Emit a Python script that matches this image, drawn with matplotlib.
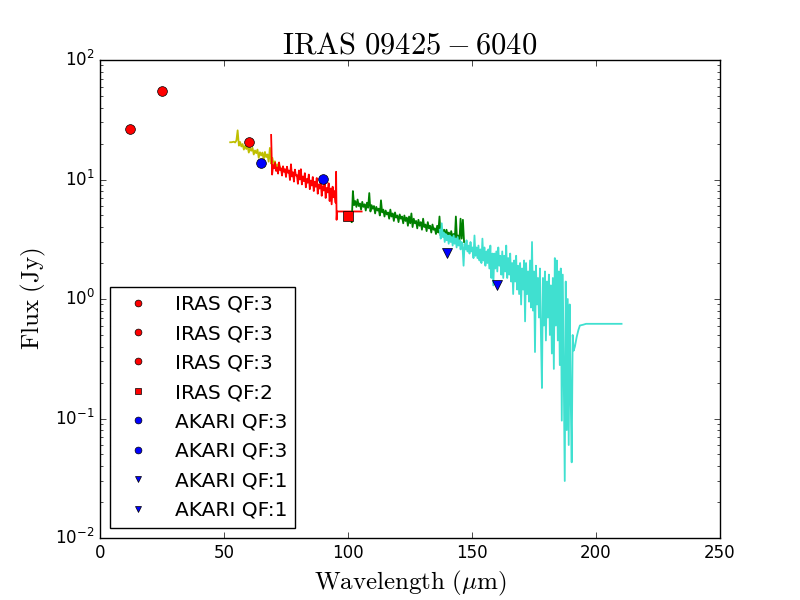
import numpy as np
import matplotlib
matplotlib.use("Agg")
import matplotlib.pyplot as plt

plt.style.use("classic")
plt.rcParams["mathtext.fontset"] = "cm"

# ---- photometry ----
iras_wl = [12, 25, 60]
iras_flux = [26.5, 55.0, 20.6]
iras_q2_wl = [100]
iras_q2_flux = [4.95]
akari_wl = [65, 90]
akari_flux = [13.7, 10.1]
akari_q1_wl = [140, 160]
akari_q1_flux = [2.43, 1.31]

# ---- spectra (start, end, flux values) ----
yellow_range = (52.5, 73.5)
yellow_flux = [20.5, 20.5, 20.6, 20.7, 20.4, 21.2, 25.8, 19.2, 20.6, 18.9,
               19.8, 17.8, 19.1, 18.0, 19.0, 16.8, 18.3, 17.4, 18.4, 16.2,
               17.5, 16.6, 17.8, 15.2, 16.9, 15.9, 16.8, 14.6, 17.0, 15.4,
               16.2, 14.1, 18.4, 13.6, 15.2, 13.4, 14.2, 12.3, 13.4, 12.4,
               12.9, 11.9, 12.3]

red_range = (69.0, 95.0)
red_flux = [23.6, 11.0, 13.2, 12.4, 13.8, 11.8, 12.6, 11.2, 13.9, 12.0,
            12.4, 10.8, 12.9, 11.6, 12.2, 10.5, 12.8, 11.4, 11.9, 9.9,
            13.4, 10.6, 11.5, 9.6, 12.1, 10.8, 10.9, 9.2, 11.9, 10.0,
            12.2, 9.1, 10.6, 9.7, 11.3, 8.6, 10.1, 9.4, 11.0, 8.3,
            9.8, 8.9, 10.5, 8.0, 9.6, 8.7, 10.3, 7.6, 9.1, 8.4,
            9.7, 7.3, 8.8, 8.1, 9.6, 7.0, 8.5, 7.8, 9.3, 6.6,
            8.4, 6.2, 8.7, 7.1, 8.0, 6.4]
red_tail_wl = [95.2, 95.4, 95.6, 105.5]
red_tail_flux = [11.6, 4.6, 5.4, 5.4]

green_range = (101.5, 146.8)
green_flux = [4.4, 8.0, 6.1, 6.6, 5.9, 6.8, 6.0, 6.3, 5.6, 6.5,
              5.9, 6.2, 5.5, 6.4, 5.8, 7.7, 5.4, 6.1, 5.7, 6.0,
              5.2, 5.9, 5.5, 5.7, 5.0, 6.7, 5.3, 5.6, 4.9, 5.5,
              5.1, 5.3, 4.7, 5.6, 4.9, 5.2, 4.5, 5.3, 4.8, 5.0,
              4.4, 5.1, 4.7, 4.9, 4.3, 5.0, 4.5, 4.8, 4.1, 4.9,
              4.3, 5.2, 4.0, 4.7, 4.3, 4.5, 3.9, 4.6, 4.1, 4.4,
              3.8, 4.7, 4.0, 4.2, 3.7, 4.4, 3.9, 4.1, 3.6, 4.2,
              3.8, 3.9, 3.5, 4.1, 3.6, 4.9, 3.4, 3.9, 3.6, 3.8,
              3.3, 3.8, 3.4, 3.6, 3.1, 3.7, 3.3, 3.5, 3.0, 4.9,
              3.1, 3.4, 3.0, 4.7, 3.2, 4.6, 3.0]

cyan_range = (137.0, 191.0)
cyan_flux = [3.8, 3.2, 4.3, 3.3, 3.6, 3.0, 3.5, 3.1, 3.4, 2.9,
             3.4, 3.0, 3.3, 2.8, 3.4, 2.9, 3.2, 2.7, 3.3, 2.8,
             3.1, 2.6, 3.0, 2.7, 1.9, 2.9, 2.6, 3.1, 2.5, 2.8,
             2.4, 3.0, 2.5, 2.7, 2.2, 3.4, 2.3, 2.7, 2.2, 2.8,
             2.1, 2.6, 2.0, 3.2, 2.1, 2.7, 1.9, 2.5, 2.0, 2.6,
             1.8, 2.8, 1.5, 2.4, 1.3, 2.4, 1.8, 2.5, 1.7, 2.7,
             1.9, 2.3, 1.6, 2.5, 1.5, 2.3, 1.7, 2.8, 1.5, 2.2,
             1.6, 2.4, 1.4, 2.0, 1.1, 2.1, 1.4, 2.3, 1.2, 1.9,
             1.1, 2.0, 0.9, 1.8, 1.2, 2.1, 0.65, 2.0, 1.1, 1.7,
             0.95, 2.1, 0.85, 3.0, 0.8, 1.7, 0.36, 1.9, 0.9, 1.5,
             0.7, 1.8, 0.5, 0.18, 1.5, 0.6, 1.7, 0.45, 1.4, 0.7,
             1.6, 0.5, 1.3, 0.35, 1.5, 0.26, 2.2, 0.6, 2.1, 0.45,
             1.7, 0.28, 1.8, 0.096, 1.6, 0.2, 0.03, 1.4, 0.08, 1.0,
             0.06, 0.9, 0.15, 0.043, 0.5, 0.37]
cyan_tail_wl = [191.5, 192.2, 192.9, 193.5, 194.9, 196.0, 200.0, 205.0, 210.3]
cyan_tail_flux = [0.40, 0.48, 0.55, 0.60, 0.61, 0.62, 0.62, 0.62, 0.62]


def grid(rng, vals):
    return np.linspace(rng[0], rng[1], len(vals))


fig = plt.figure(figsize=(8, 6), dpi=100, facecolor="white")
ax = fig.add_subplot(111)
fig.subplots_adjust(left=0.125, right=0.9, bottom=0.1033, top=0.9)

lw = 1.3
ax.plot(grid(yellow_range, yellow_flux), yellow_flux, color="y", lw=lw)
ax.plot(np.concatenate([grid(red_range, red_flux), red_tail_wl]),
        red_flux + red_tail_flux, color="r", lw=lw)
ax.plot(grid(green_range, green_flux), green_flux, color="g", lw=lw)
ax.plot(np.concatenate([grid(cyan_range, cyan_flux), cyan_tail_wl]),
        cyan_flux + cyan_tail_flux, color="#40E0D0", lw=lw)

ms = 7
for w, f in zip(iras_wl, iras_flux):
    ax.plot([w], [f], "o", color="r", mec="k", ms=ms, label="IRAS QF:3")
for w, f in zip(iras_q2_wl, iras_q2_flux):
    ax.plot([w], [f], "s", color="r", mec="k", ms=ms, label="IRAS QF:2")
for w, f in zip(akari_wl, akari_flux):
    ax.plot([w], [f], "o", color="b", mec="k", mew=0.5, ms=ms, label="AKARI QF:3")
for w, f in zip(akari_q1_wl, akari_q1_flux):
    ax.plot([w], [f], "v", color="b", mec="k", ms=ms, label="AKARI QF:1")

ax.set_yscale("log")
ax.set_xlim(0, 250)
ax.set_ylim(1e-2, 1e2)
ax.set_title(r"$\mathrm{IRAS\ 09425-6040}$", fontsize=22)
ax.set_xlabel(r"$\mathrm{Wavelength\ (}\mu\mathrm{m)}$", fontsize=18)
ax.set_ylabel(r"$\mathrm{Flux\ (Jy)}$", fontsize=18)
ax.tick_params(labelsize=12)

leg = ax.legend(loc="lower left", numpoints=1, markerscale=0.7,
                fontsize=14.5, labelspacing=0.52, borderpad=0.4)
leg.get_frame().set_edgecolor("k")

fig.savefig("out.png", dpi=100, facecolor="white")
